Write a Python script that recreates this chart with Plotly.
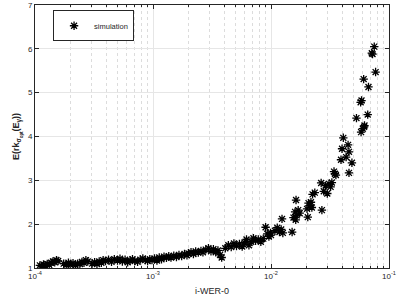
import plotly.graph_objects as go

# i-WER-0 (x, log scale) and E(rk) (y)
wer = [
    1.10e-4, 1.14e-4, 1.18e-4, 1.22e-4, 1.27e-4, 1.32e-4, 1.37e-4, 1.42e-4, 1.47e-4, 1.52e-4, 1.57e-4,
    1.75e-4, 1.84e-4, 1.92e-4, 2.00e-4, 2.10e-4, 2.20e-4, 2.30e-4, 2.40e-4, 2.50e-4, 2.60e-4, 2.70e-4, 2.80e-4,
    3.05e-4, 3.20e-4, 3.35e-4, 3.50e-4, 3.65e-4, 3.78e-4,
    3.95e-4, 4.20e-4, 4.45e-4, 4.70e-4, 5.00e-4, 5.25e-4,
    5.50e-4, 5.80e-4, 6.10e-4, 6.40e-4, 6.70e-4, 7.00e-4, 7.40e-4, 7.80e-4, 8.20e-4, 8.60e-4, 9.00e-4, 9.40e-4,
    9.80e-4, 1.03e-3, 1.08e-3, 1.13e-3, 1.18e-3, 1.24e-3, 1.30e-3, 1.36e-3,
    1.42e-3, 1.50e-3, 1.58e-3, 1.66e-3, 1.75e-3, 1.85e-3, 1.94e-3,
    2.00e-3, 2.10e-3, 2.20e-3, 2.30e-3, 2.42e-3, 2.55e-3, 2.65e-3,
    2.80e-3, 2.95e-3, 3.10e-3, 3.25e-3, 3.40e-3, 3.55e-3, 3.70e-3, 3.82e-3,
    4.10e-3, 4.35e-3, 4.60e-3, 4.85e-3, 5.10e-3, 5.40e-3, 5.70e-3,
    5.95e-3, 6.20e-3, 6.50e-3, 6.80e-3, 7.10e-3, 7.40e-3,
    7.80e-3, 8.20e-3, 8.60e-3,
    9.00e-3, 9.30e-3, 9.60e-3, 9.90e-3, 1.00e-2,
    1.08e-2, 1.13e-2, 1.18e-2, 1.22e-2, 1.26e-2, 1.24e-2,
    1.51e-2, 1.63e-2,
    1.55e-2, 1.60e-2, 1.65e-2, 1.70e-2, 1.75e-2, 1.62e-2,
    2.02e-2, 2.08e-2, 2.13e-2, 2.18e-2, 2.22e-2, 2.05e-2,
    2.25e-2, 2.35e-2,
    2.70e-2, 2.66e-2,
    2.80e-2, 2.90e-2, 3.00e-2, 3.10e-2, 3.20e-2, 3.28e-2,
    3.48e-2, 3.42e-2, 3.55e-2,
    3.92e-2, 4.10e-2, 4.00e-2, 4.50e-2, 4.58e-2, 4.33e-2, 4.85e-2, 4.58e-2,
    5.80e-2, 6.00e-2, 6.15e-2, 6.20e-2, 5.30e-2, 6.60e-2,
    5.75e-2, 5.85e-2, 6.70e-2, 6.10e-2, 7.70e-2, 7.15e-2, 7.25e-2, 7.50e-2,
]
erk = [
    1.06, 1.04, 1.08, 1.05, 1.09, 1.07, 1.12, 1.15, 1.13, 1.18, 1.16,
    1.10, 1.07, 1.12, 1.08, 1.11, 1.06, 1.10, 1.09, 1.14, 1.12, 1.18, 1.15,
    1.10, 1.13, 1.09, 1.15, 1.12, 1.18,
    1.16, 1.19, 1.14, 1.20, 1.17, 1.21,
    1.15, 1.19, 1.13, 1.17, 1.20, 1.16, 1.14, 1.19, 1.22, 1.18, 1.16, 1.20,
    1.18, 1.22, 1.17, 1.24, 1.20, 1.26, 1.23, 1.27,
    1.24, 1.28, 1.25, 1.30, 1.27, 1.32, 1.29,
    1.33, 1.36, 1.32, 1.38, 1.35, 1.39, 1.36,
    1.42, 1.45, 1.38, 1.43, 1.36, 1.40, 1.30, 1.24,
    1.45, 1.52, 1.48, 1.56, 1.50, 1.55, 1.49,
    1.58, 1.65, 1.52, 1.60, 1.68, 1.62,
    1.65, 1.60, 1.67,
    1.93, 1.78, 1.72, 1.80, 1.75,
    1.85, 1.92, 1.82, 1.88, 1.80, 2.12,
    1.82, 2.55,
    2.15, 2.28, 2.20, 2.32, 2.25, 2.10,
    2.35, 2.48, 2.42, 2.50, 2.38, 2.16,
    2.68, 2.72,
    2.32, 2.94,
    2.75, 2.88, 2.70, 2.92, 2.85, 2.95,
    3.15, 3.20, 3.12,
    3.47, 3.97, 3.72, 3.81, 3.65, 3.53, 3.40, 3.17,
    4.10, 4.18, 4.22, 4.25, 4.42, 4.50,
    4.78, 4.82, 5.13, 5.31, 5.47, 5.90, 5.88, 6.05,
]

x_tickvals = [1e-4, 1e-3, 1e-2, 1e-1]
x_ticktext = ["10<sup>-4</sup>", "10<sup>-3</sup>", "10<sup>-2</sup>", "10<sup>-1</sup>"]
x_minorvals = [m * d for d in (1e-4, 1e-3, 1e-2) for m in range(2, 10)]
y_tickvals = [1, 2, 3, 4, 5, 6, 7]

axis_col = "#262626"
font_fam = "Liberation Sans, Arial, sans-serif"

fig = go.Figure()
fig.add_trace(go.Scatter(
    x=wer, y=erk, mode="markers", name="simulation",
    marker=dict(symbol="asterisk-open", size=7, color="black",
                line=dict(color="black", width=1.3)),
))

fig.update_layout(
    width=399, height=304,
    margin=dict(l=35, r=10, t=5, b=36),
    paper_bgcolor="white", plot_bgcolor="white",
    font=dict(family=font_fam, size=8, color=axis_col),
    showlegend=True,
    legend=dict(x=0.051, y=0.98, xanchor="left", yanchor="top",
                bgcolor="white", bordercolor=axis_col, borderwidth=1,
                font=dict(size=7.5, color=axis_col), itemwidth=30,
                tracegroupgap=0),
)
fig.update_xaxes(
    type="log", range=[-4, -1], automargin=False,
    tickvals=x_tickvals, ticktext=x_ticktext,
    ticks="inside", ticklen=4, tickcolor=axis_col,
    showline=True, linecolor=axis_col, linewidth=1, mirror="ticks",
    showgrid=True, gridcolor="#e6e6e6", gridwidth=1,
    minor=dict(tickvals=x_minorvals, ticks="inside", ticklen=2, tickcolor=axis_col,
               showgrid=True, gridcolor="#dcdcdc", griddash="dot", gridwidth=1),
    zeroline=False,
    tickfont=dict(size=8, color=axis_col),
    title=dict(text="i-WER-0", font=dict(size=9, color=axis_col), standoff=8),
)
fig.update_yaxes(
    range=[1, 7], tickvals=y_tickvals, automargin=False,
    ticks="inside", ticklen=4, tickcolor=axis_col,
    showline=True, linecolor=axis_col, linewidth=1, mirror="ticks",
    showgrid=True, gridcolor="#e6e6e6", gridwidth=1,
    zeroline=False,
    tickfont=dict(size=8, color=axis_col),
    title=dict(text="<b>E(rk<sub>σ<sub>opt</sub></sub>(E<sub>γ</sub>))</b>",
               font=dict(size=9, color=axis_col), standoff=6),
)

fig.write_html("out.html", config={"displayModeBar": False},
               post_script="document.body.style.margin='0px';")
